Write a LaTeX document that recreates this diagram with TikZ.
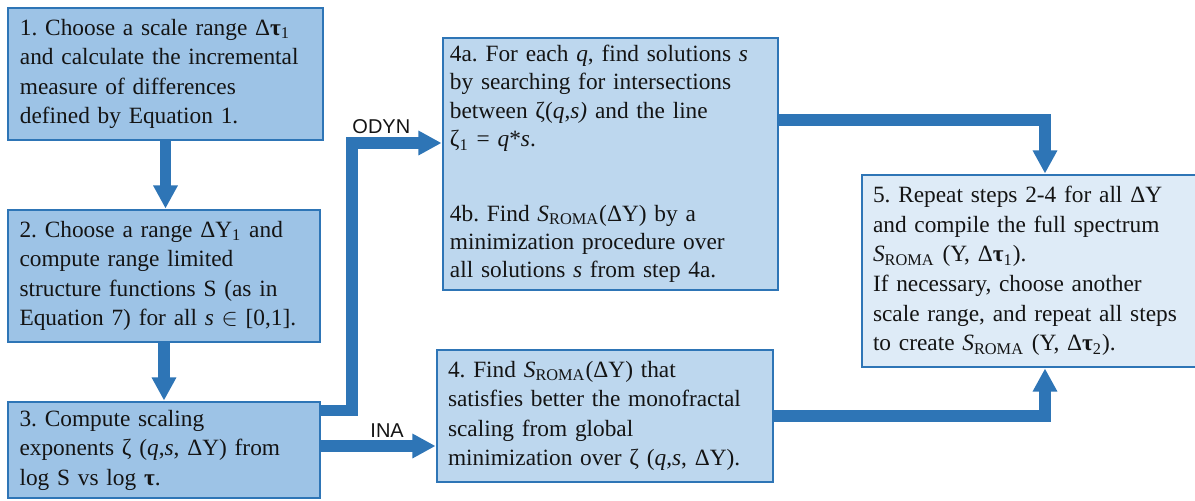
\documentclass[tikz,border=0pt]{standalone}
\usepackage{fontspec}
\setmainfont{Liberation Serif}
\newfontfamily\tagfont{Liberation Sans}
\frenchspacing
\usetikzlibrary{arrows.meta,positioning,calc}
\definecolor{edge}{HTML}{2E75B6}
\definecolor{stepfill}{HTML}{9DC3E6}
\definecolor{subfill}{HTML}{BDD7EE}
\definecolor{endfill}{HTML}{DEEBF7}
\definecolor{ink}{HTML}{141414}
\tikzset{
  stepbox/.style={draw=edge, line width=1.3pt, align=left, text=ink,
                  inner xsep=0pt, inner ysep=0pt,
                  font=\fontsize{10.5}{13.3}\selectfont},
  flow/.style={-{Triangle[length=10.4pt,width=10.4pt]}, line width=5pt, draw=edge},
  tag/.style={font=\tagfont\fontsize{9}{10}\selectfont, inner sep=0pt, text=ink}
}

\begin{document}
\begin{tikzpicture}[x=0.45pt,y=-0.45pt]
  \useasboundingbox (0,0) rectangle (1195,500);

  % left column
  \node[stepbox,fill=stepfill,text width=131pt,minimum width=141.75pt,minimum height=59.4pt] (s1) at (165.5,74)
    {1. Choose a scale range Δ\textbf{τ}\textsubscript{1}\\
     and calculate the incremental\\
     measure of differences\\
     defined by Equation 1.};
  \node[stepbox,fill=stepfill,text width=130pt,minimum width=140.4pt,minimum height=59.4pt] (s2) at (164,276)
    {2. Choose a range ΔY\textsubscript{1} and\\
     compute range limited\\
     structure functions S (as in\\
     Equation 7) for all \textit{s} $\in$ [0,1].};
  \node[stepbox,fill=stepfill,text width=130pt,minimum width=140.4pt,minimum height=43.2pt] (s3) at (164,450)
    {3. Compute scaling\\
     exponents ζ (\textit{q},\textit{s}, ΔY) from\\
     log S vs log \textbf{τ}.};

  % middle column
  \node[stepbox,fill=subfill,text width=144.5pt,minimum width=150.75pt,minimum height=113.4pt,
        font=\fontsize{10.5}{12.7}\selectfont] (s4a) at (610.5,164)
    {\makebox[\hsize][s]{4a. For each \textit{q}, find solutions \textit{s}}\\
     \makebox[\hsize][s]{by searching for intersections}\\
     between ζ(\textit{q},\textit{s)} and the line\\
     ζ\textsubscript{1} = \textit{q}*\textit{s}.\\[21pt]
     4b. Find \textit{S}\textsubscript{ROMA}(ΔY) by a\\
     minimization procedure over\\
     all solutions \textit{s} from step 4a.};
  \node[stepbox,fill=subfill,text width=141.3pt,minimum width=151.2pt,minimum height=59.4pt] (s4) at (605,416)
    {4. Find \textit{S}\textsubscript{ROMA}(ΔY) that\\
     satisfies better the monofractal\\
     scaling from global\\
     minimization over ζ (\textit{q},\textit{s}, ΔY).};

  % right column
  \node[stepbox,fill=endfill,text width=154.8pt,minimum width=164.7pt,minimum height=86.4pt] (s5) at (1045,271)
    {5. Repeat steps 2-4 for all ΔY\\
     and compile the full spectrum\\
     \textit{S}\textsubscript{ROMA} (Y, Δ\textbf{τ}\textsubscript{1}).\\
     If necessary, choose another\\
     scale range, and repeat all steps\\
     to create \textit{S}\textsubscript{ROMA} (Y, Δ\textbf{τ}\textsubscript{2}).};

  % connectors
  \draw[flow] (s1.south) -- (s1.south |- s2.north);
  \draw[flow] (s2.south) -- (s2.south |- s3.north);

  \coordinate (odynbend) at (352,143);
  \draw[flow] ([yshift=-4.5pt]s3.north east) -| (odynbend) -- (odynbend -| s4a.west);
  \node[tag,anchor=base west] (odyn) at (352,133) {ODYN};

  \draw[flow] ([yshift=1.8pt]s3.east) -- ([yshift=1.8pt]s3.east -| s4.west);
  \node[tag,anchor=base west] (ina) at (370,437) {INA};

  \draw[flow] ([yshift=19.8pt]s4a.east) -| (s5.north);
  \draw[flow] (s4.east) -| (s5.south);
\end{tikzpicture}
\end{document}
